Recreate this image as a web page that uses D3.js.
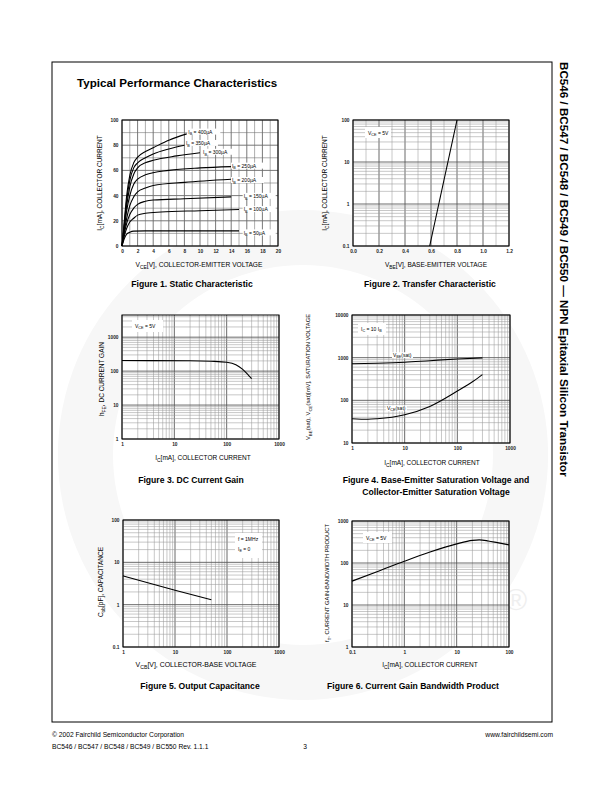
<!DOCTYPE html>
<html><head><meta charset="utf-8">
<script src="https://cdn.jsdelivr.net/npm/d3@7"></script>
<style>body{margin:0;background:#fff}svg{display:block}</style>
</head><body><svg id="page" width="612" height="792"></svg>
<script>
// ================= DATA =================
// Figure 1 – Static characteristic (VCE [V], IC [mA]) per IB
const fig1XTicks = [0,2,4,6,8,10,12,14,16,18,20];
const fig1YTicks = [0,20,40,60,80,100];
const fig1IB = ["50","100","150","200","250","300","350","400"];
const fig1Curve50  = [[0,0],[0.3,6],[0.6,9.5],[1,11],[1.5,11.8],[3,12],[15,12]];
const fig1Curve100 = [[0,0],[0.3,8],[0.6,14],[1,19],[1.5,22],[2,24.5],[3,26],[5,27],[10,28],[15,29]];
const fig1Curve150 = [[0,0],[0.3,10],[0.6,18],[1,25],[1.5,30],[2,33],[3,35.5],[4,36.5],[8,37.5],[14,39]];
const fig1Curve200 = [[0,0],[0.3,12],[0.6,22],[1,32],[1.5,39],[2,43],[3,46],[4,48],[8,50.5],[14,53]];
const fig1Curve250 = [[0,0],[0.3,14],[0.6,28],[1,40],[1.5,49],[2,53],[3,56.5],[6,60],[10,62],[14,63]];
const fig1Curve300 = [[0,0],[0.3,16],[0.6,32],[1,47],[1.5,57],[2,62],[3,66],[4,68],[7,71.5],[10,74]];
const fig1Curve350 = [[0,0],[0.3,18],[0.6,36],[1,52],[1.5,62],[2,66],[3,70],[4,73],[6,77],[8,80]];
const fig1Curve400 = [[0,0],[0.3,20],[0.6,40],[1,56],[1.5,66],[2,70.5],[3,75],[4,78],[6,84],[8.3,89]];
const fig1LabelV = [15.6,15.6,15.6,14.1,14.1,10.4,8.2,8.5];
const fig1LabelI = [10,28.5,39,51.6,63,74,81,90];

// Figure 2 – Transfer characteristic (VBE [V], IC [mA])
const fig2XTicks = [0.0,0.2,0.4,0.6,0.8,1.0,1.2];
const fig2YTicks = [0.1,1,10,100];
const fig2Curve = [[0.59,0.1],[0.80,100]];

// Figure 3 – DC current gain (IC [mA], hFE)
const fig3XTicks = [1,10,100,1000];
const fig3YTicks = [1,10,100,1000];
const fig3Curve = [[1,205],[20,202],[50,195],[100,182],[150,155],[200,115],[250,82],[300,60]];

// Figure 4 – Saturation voltages (IC [mA], mV)
const fig4XTicks = [1,10,100,1000];
const fig4YTicks = [10,100,1000,10000];
const fig4VBEsat = [[1,720],[3,740],[10,780],[30,850],[100,930],[300,990]];
const fig4VCEsat = [[1,37],[2,36],[3,37],[10,46],[30,72],[100,165],[200,280],[300,400]];

// Figure 5 – Output capacitance (VCB [V], Cob [pF])
const fig5XTicks = [1,10,100,1000];
const fig5YTicks = [0.1,1,10,100];
const fig5Curve = [[1,4.8],[10,2.2],[50,1.3]];

// Figure 6 – Current gain bandwidth product (IC [mA], fT [MHz])
const fig6XTicks = [0.1,1,10,100];
const fig6YTicks = [1,10,100,1000];
const fig6Curve = [[0.1,37],[0.3,62],[1,110],[3,180],[10,285],[20,345],[27,355],[40,335],[60,305],[100,270]];

// ================= DRAWING =================
const FONT = '"Liberation Sans", Arial, Helvetica, sans-serif';
const svg = d3.select("#page");

// faint watermark
svg.append("path")
  .attr("transform","translate(303,455)")
  .attr("d", d3.arc()({innerRadius:190, outerRadius:245, startAngle:0, endAngle:2*Math.PI}))
  .attr("fill","#f7f7f7");
svg.append("text").attr("x",505).attr("y",610).attr("font-family",FONT).attr("font-size",30)
  .attr("fill","#efefef").text("®");

// frame
svg.append("rect").attr("x",52).attr("y",62).attr("width",500).attr("height",660)
  .attr("fill","none").attr("stroke","#000").attr("stroke-width",1);

// title
svg.append("text").attr("x",77).attr("y",87).attr("font-family",FONT).attr("font-weight","bold")
  .attr("font-size",11.6).text("Typical Performance Characteristics");

// side text
const side = svg.append("text").attr("transform","translate(560,62) rotate(90)").attr("font-family",FONT)
  .attr("font-weight","bold").attr("font-size",11)
  .text("BC546 / BC547 / BC548 / BC549 / BC550 \u2014 NPN Epitaxial Silicon Transistor");
fit(side, 11, 416);

// footer
const foot = [
  {x:52,y:737,a:"start",t:"\u00A9 2002 Fairchild Semiconductor Corporation"},
  {x:553,y:737,a:"end",t:"www.fairchildsemi.com"},
  {x:52,y:749,a:"start",t:"BC546 / BC547 / BC548 / BC549 / BC550 Rev. 1.1.1"},
  {x:305,y:749,a:"middle",t:"3"}
];
svg.selectAll(null).data(foot).join("text").attr("x",d=>d.x).attr("y",d=>d.y)
  .attr("text-anchor",d=>d.a).attr("font-family",FONT).attr("font-size",6.7).text(d=>d.t);

function fit(t, size, target){
  const w = t.node().getBBox().width;
  if (w>0) {
    const s = size*target/w;
    t.attr("font-size",s);
    t.selectAll("tspan").each(function(){
      const el=d3.select(this); const fs=el.attr("font-size");
      if(fs) el.attr("font-size", fs*target/w);
      const dy=el.attr("dy"); if(dy) el.attr("dy", dy*target/w);
    });
  }
  return t;
}

// rich text helper: parts = [[text, isSub], ...]
function rich(parent, x, y, parts, size, opts={}) {
  const t = parent.append("text").attr("font-family",FONT).attr("font-size",size)
    .attr("text-anchor",opts.anchor||"start");
  if (opts.rotate) t.attr("transform",`translate(${x},${y}) rotate(${opts.rotate})`);
  else t.attr("x",x).attr("y",y);
  if (opts.weight) t.attr("font-weight",opts.weight);
  let shifted = false;
  parts.forEach(p => {
    const s = t.append("tspan").text(p[0]);
    if (p[1] && !shifted) { s.attr("dy",size*0.3).attr("font-size",size*0.75); shifted = true; }
    else if (p[1]) { s.attr("font-size",size*0.75); }
    else if (shifted) { s.attr("dy",-size*0.3); shifted = false; }
  });
  if (opts.fit) fit(t, size, opts.fit);
  return t;
}

function logGrid(min,max){
  const out=[];
  for(let e=Math.floor(Math.log10(min)+1e-9); e<=Math.ceil(Math.log10(max)); e++){
    for(let k=1;k<=9;k++){
      const v=k*Math.pow(10,e);
      if(v>=min*0.9999 && v<=max*1.0001) out.push({v, major:k===1});
    }
  }
  return out;
}
function linGrid(min,max,step,majorEvery){
  const out=[]; const n=Math.round((max-min)/step);
  for(let i=0;i<=n;i++) out.push({v:min+i*step, major:i%majorEvery===0});
  return out;
}

function plot(o){
  const x=(o.xLog?d3.scaleLog():d3.scaleLinear()).domain(o.xDomain).range([o.left,o.right]);
  const y=(o.yLog?d3.scaleLog():d3.scaleLinear()).domain(o.yDomain).range([o.bottom,o.top]);
  const g=svg.append("g");
  g.append("rect").attr("x",o.left).attr("y",o.top).attr("width",o.right-o.left)
    .attr("height",o.bottom-o.top).attr("fill","#fff");
  const xg=o.xLog?logGrid(o.xDomain[0],o.xDomain[1]):o.xGrid;
  const yg=o.yLog?logGrid(o.yDomain[0],o.yDomain[1]):o.yGrid;
  const minorC=o.minorColor||"#9a9a9a", majorC=o.majorColor||"#5a5a5a";
  g.selectAll(null).data(xg).join("line")
    .attr("x1",d=>x(d.v)).attr("x2",d=>x(d.v)).attr("y1",o.top).attr("y2",o.bottom)
    .attr("stroke",d=>d.major?majorC:minorC).attr("stroke-width",d=>d.major?0.9:0.55);
  g.selectAll(null).data(yg).join("line")
    .attr("y1",d=>y(d.v)).attr("y2",d=>y(d.v)).attr("x1",o.left).attr("x2",o.right)
    .attr("stroke",d=>d.major?majorC:minorC).attr("stroke-width",d=>d.major?0.9:0.55);
  const ax=g.append("g").attr("transform",`translate(0,${o.bottom})`)
    .call(d3.axisBottom(x).tickValues(o.xTicks).tickFormat(o.xFmt||(d=>String(d))).tickSize(0).tickPadding(3.5));
  const ay=g.append("g").attr("transform",`translate(${o.left},0)`)
    .call(d3.axisLeft(y).tickValues(o.yTicks).tickFormat(o.yFmt||(d=>String(d))).tickSize(0).tickPadding(3.5));
  [ax,ay].forEach(a=>{a.select(".domain").remove();
    a.selectAll("text").attr("font-family",FONT).attr("font-size",4.8).attr("font-weight","bold").attr("fill","#222");});
  return {g,x,y};
}

function legendBox(g,x0,y0,w,h){
  g.append("rect").attr("x",x0).attr("y",y0).attr("width",w).attr("height",h).attr("fill","#fff");
}
function drawCurve(P,data,curve){
  P.g.append("path").datum(data)
    .attr("d",d3.line().x(d=>P.x(d[0])).y(d=>P.y(d[1])).curve(curve||d3.curveMonotoneX))
    .attr("fill","none").attr("stroke","#000").attr("stroke-width",1.1);
}
function border(P,o){
  P.g.append("rect").attr("x",o.left).attr("y",o.top).attr("width",o.right-o.left)
    .attr("height",o.bottom-o.top).attr("fill","none").attr("stroke","#000").attr("stroke-width",1);
}
function caption(lines,cx,y){
  lines.forEach((t,i)=>svg.append("text").attr("x",cx).attr("y",y+i*12).attr("text-anchor","middle")
    .attr("font-family",FONT).attr("font-weight","bold").attr("font-size",8.6).text(t));
}
const LS=6.5; // axis label size

// ---------- Figure 1 ----------
{
  const o={left:122,right:278,top:120,bottom:246,xDomain:[0,20],yDomain:[0,100],
    xGrid:linGrid(0,20,1,2),yGrid:linGrid(0,100,10,2),xTicks:fig1XTicks,yTicks:fig1YTicks,
    majorColor:"#6a6a6a",minorColor:"#6a6a6a"};
  const P=plot(o);
  const curves=[fig1Curve50,fig1Curve100,fig1Curve150,fig1Curve200,fig1Curve250,fig1Curve300,fig1Curve350,fig1Curve400];
  curves.forEach(c=>drawCurve(P,c));
  fig1IB.forEach((ib,i)=>{
    const lx=P.x(fig1LabelV[i]), ly=P.y(fig1LabelI[i]);
    P.g.append("rect").attr("x",lx-1).attr("y",ly-4).attr("width",33).attr("height",6).attr("fill","#fff");
    rich(P.g,lx,ly+1.3,[["I"],["B",1],[" = "+ib+"\u00B5A"]],5);
  });
  border(P,o);
  rich(svg,199,267,[["V"],["CE",1],["[V], COLLECTOR-EMITTER VOLTAGE"]],LS,{anchor:"middle",fit:128});
  rich(svg,102,183,[["I"],["C",1],["[mA], COLLECTOR CURRENT"]],LS,{anchor:"middle",rotate:-90});
  caption(["Figure 1. Static Characteristic"],192,287);
}
// ---------- Figure 2 ----------
{
  const o={left:353,right:509,top:120,bottom:246,xDomain:[0,1.2],yDomain:[0.1,100],yLog:true,
    xGrid:linGrid(0,1.2,0.1,2),xTicks:fig2XTicks,yTicks:fig2YTicks,xFmt:d3.format(".1f")};
  const P=plot(o);
  legendBox(P.g,365,127,26,11);
  rich(P.g,368,134.5,[["V"],["CE",1],[" = 5V"]],5);
  drawCurve(P,fig2Curve,d3.curveLinear);
  border(P,o);
  rich(svg,436,267,[["V"],["BE",1],["[V], BASE-EMITTER VOLTAGE"]],LS,{anchor:"middle"});
  rich(svg,327,183,[["I"],["C",1],["[mA], COLLECTOR CURRENT"]],LS,{anchor:"middle",rotate:-90});
  caption(["Figure 2. Transfer Characteristic"],430,287);
}
// ---------- Figure 3 ----------
{
  const o={left:122,right:279,top:315,bottom:439,xLog:true,yLog:true,xDomain:[1,1000],yDomain:[1,4500],
    xTicks:fig3XTicks,yTicks:fig3YTicks};
  const P=plot(o);
  legendBox(P.g,132,320,31,12);
  rich(P.g,135,327.5,[["V"],["CE",1],[" = 5V"]],5);
  drawCurve(P,fig3Curve);
  border(P,o);
  rich(svg,203,460,[["I"],["C",1],["[mA], COLLECTOR CURRENT"]],LS,{anchor:"middle"});
  rich(svg,104,379,[["h"],["FE",1],[", DC CURRENT GAIN"]],LS,{anchor:"middle",rotate:-90});
  caption(["Figure 3. DC Current Gain"],191,483);
}
// ---------- Figure 4 ----------
{
  const o={left:352,right:510,top:315,bottom:443,xLog:true,yLog:true,xDomain:[1,1000],yDomain:[10,10000],
    xTicks:fig4XTicks,yTicks:fig4YTicks};
  const P=plot(o);
  legendBox(P.g,358,323,28,12);
  rich(P.g,361,330.5,[["I"],["C",1],[" = 10 I"],["B",1]],5);
  drawCurve(P,fig4VBEsat);
  drawCurve(P,fig4VCEsat);
  P.g.append("rect").attr("x",P.x(6)-1).attr("y",P.y(1050)-4.5).attr("width",21).attr("height",6).attr("fill","#fff");
  rich(P.g,P.x(6),P.y(1050),[["V"],["BE",1],["(sat)"]],5);
  P.g.append("rect").attr("x",P.x(4.6)-1).attr("y",P.y(60)-4.5).attr("width",21).attr("height",6).attr("fill","#fff");
  rich(P.g,P.x(4.6),P.y(60),[["V"],["CE",1],["(sat)"]],5);
  border(P,o);
  rich(svg,432,465,[["I"],["C",1],["[mA], COLLECTOR CURRENT"]],LS,{anchor:"middle"});
  rich(svg,310,377,[["V"],["BE",1],["(sat), V"],["CE",1],["(sat)[mV], SATURATION VOLTAGE"]],LS,{anchor:"middle",rotate:-90,fit:127});
  caption(["Figure 4. Base-Emitter Saturation Voltage and","Collector-Emitter Saturation Voltage"],436,483);
}
// ---------- Figure 5 ----------
{
  const o={left:123,right:279,top:520,bottom:647,xLog:true,yLog:true,xDomain:[1,1000],yDomain:[0.1,100],
    xTicks:fig5XTicks,yTicks:fig5YTicks};
  const P=plot(o);
  legendBox(P.g,235,533,27,25);
  rich(P.g,238,541,[["f = 1MHz"]],5);
  rich(P.g,238,550.5,[["I"],["E",1],[" = 0"]],5);
  drawCurve(P,fig5Curve);
  border(P,o);
  rich(svg,196,667,[["V"],["CB",1],["[V], COLLECTOR-BASE VOLTAGE"]],LS,{anchor:"middle",fit:122});
  rich(svg,103,582,[["C"],["ob",1],["[pF], CAPACITANCE"]],LS,{anchor:"middle",rotate:-90});
  caption(["Figure 5. Output Capacitance"],200,689);
}
// ---------- Figure 6 ----------
{
  const o={left:352,right:509,top:521,bottom:647,xLog:true,yLog:true,xDomain:[0.1,100],yDomain:[1,1000],
    xTicks:fig6XTicks,yTicks:fig6YTicks};
  const P=plot(o);
  legendBox(P.g,363,532,29,11);
  rich(P.g,366,539.5,[["V"],["CE",1],[" = 5V"]],5);
  drawCurve(P,fig6Curve);
  border(P,o);
  rich(svg,430,667,[["I"],["C",1],["[mA], COLLECTOR CURRENT"]],LS,{anchor:"middle"});
  rich(svg,329,583,[["f"],["T",1],[", CURRENT GAIN-BANDWIDTH PRODUCT"]],LS,{anchor:"middle",rotate:-90,fit:118});
  caption(["Figure 6. Current Gain Bandwidth Product"],413,689);
}
</script></body></html>
